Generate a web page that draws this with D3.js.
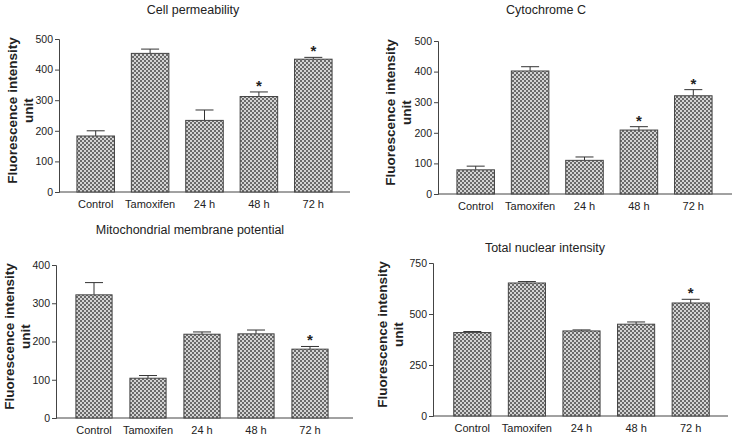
<!DOCTYPE html>
<html>
<head>
<meta charset="utf-8">
<script src="https://cdn.jsdelivr.net/npm/d3@7"></script>
<style>
  body { margin: 0; background: #fff; }
  svg { font-family: "Liberation Sans", Arial, sans-serif; }
  .tick text { font-size: 10.5px; fill: #222; }
  .domain, .tick line { stroke: #444; }
</style>
</head>
<body>
<svg id="chart" width="735" height="435"></svg>
<script>
const categories = ["Control", "Tamoxifen", "24 h", "48 h", "72 h"];

// mean and upper error-bar values
const cellPermMean = [183, 453, 234, 312, 434];
const cellPermErr = [200, 467, 268, 327, 440];
const cellPermStar = [false, false, false, true, true];

const cytoCMean = [79, 402, 110, 209, 321];
const cytoCErr = [91, 416, 121, 220, 341];
const cytoCStar = [false, false, false, true, true];

const mitoMean = [322, 104, 219, 220, 180];
const mitoErr = [354, 111, 225, 230, 187];
const mitoStar = [false, false, false, false, true];

const nuclearMean = [409, 652, 417, 450, 554];
const nuclearErr = [414, 659, 422, 461, 572];
const nuclearStar = [false, false, false, false, true];

const svg = d3.select("#chart");

// checkered fill like the original
const pat = svg.append("defs")
    .append("pattern")
    .attr("id", "checker")
    .attr("width", 4)
    .attr("height", 4)
    .attr("patternUnits", "userSpaceOnUse");
pat.append("rect").attr("width", 4).attr("height", 4).attr("fill", "#d4d4d4");
pat.append("rect").attr("width", 2).attr("height", 2).attr("fill", "#6a6a6a");
pat.append("rect").attr("x", 2).attr("y", 2).attr("width", 2).attr("height", 2).attr("fill", "#6a6a6a");

function drawPanel(opts) {
    const g = svg.append("g");
    const x = d3.scaleBand()
        .domain(categories)
        .range(opts.band)
        .paddingInner(opts.pad)
        .paddingOuter(opts.pad / 2);
    const y = d3.scaleLinear()
        .domain([0, opts.max])
        .range([opts.yBottom, opts.yTop]);

    g.append("g")
        .attr("transform", `translate(${opts.x0},0)`)
        .call(d3.axisLeft(y).tickValues(opts.ticks).tickSize(4).tickPadding(2).tickFormat(d3.format("d")));
    g.append("line")
        .attr("x1", opts.x0).attr("x2", opts.x1)
        .attr("y1", opts.yBottom).attr("y2", opts.yBottom)
        .attr("stroke", "#444");

    g.selectAll(".xl")
        .data(categories)
        .join("text")
        .attr("x", d => x(d) + x.bandwidth() / 2)
        .attr("y", opts.yBottom + 16)
        .attr("text-anchor", "middle")
        .attr("font-size", 11)
        .attr("fill", "#222")
        .text(d => d);

    // error bars (upper only)
    categories.forEach((c, i) => {
        const cx = x(c) + x.bandwidth() / 2;
        g.append("line")
            .attr("x1", cx).attr("x2", cx)
            .attr("y1", y(opts.mean[i])).attr("y2", y(opts.err[i]))
            .attr("stroke", "#333");
        g.append("line")
            .attr("x1", cx - 9).attr("x2", cx + 9)
            .attr("y1", y(opts.err[i])).attr("y2", y(opts.err[i]))
            .attr("stroke", "#333");
        if (opts.star[i]) {
            g.append("text")
                .attr("x", cx)
                .attr("y", y(opts.err[i]) - 1)
                .attr("text-anchor", "middle")
                .attr("font-size", 15)
                .attr("font-weight", "bold")
                .attr("fill", "#222")
                .text("*");
        }
    });

    g.selectAll(".bar")
        .data(categories)
        .join("rect")
        .attr("x", d => x(d))
        .attr("y", (d, i) => y(opts.mean[i]))
        .attr("width", x.bandwidth())
        .attr("height", (d, i) => opts.yBottom - y(opts.mean[i]))
        .attr("fill", "url(#checker)")
        .attr("stroke", "#444")
        .attr("stroke-width", 1);

    g.append("text")
        .attr("x", opts.titleX)
        .attr("y", opts.titleY)
        .attr("text-anchor", "middle")
        .attr("font-size", 12.5)
        .attr("fill", "#222")
        .text(opts.title);

    const midY = (opts.yTop + opts.yBottom) / 2 - 5;
    const lab = g.append("text")
        .attr("transform", `translate(${opts.labelX},${midY}) rotate(-90)`)
        .attr("text-anchor", "middle")
        .attr("font-size", 13.5)
        .attr("font-weight", "bold")
        .attr("fill", "#222");
    lab.append("tspan").attr("x", 0).attr("dy", 0).text("Fluorescence intensity");
    lab.append("tspan").attr("x", 0).attr("dy", 16).text("unit");
}

drawPanel({
    title: "Cell permeability", titleX: 193, titleY: 14,
    x0: 59, x1: 350, band: [68.5, 340.5], pad: 0.31,
    yTop: 39, yBottom: 192, max: 500,
    ticks: [0, 100, 200, 300, 400, 500], labelX: 17,
    mean: cellPermMean, err: cellPermErr, star: cellPermStar
});
drawPanel({
    title: "Cytochrome C", titleX: 546, titleY: 14,
    x0: 438, x1: 732, band: [448.5, 720.5], pad: 0.31,
    yTop: 41, yBottom: 194, max: 500,
    ticks: [0, 100, 200, 300, 400, 500], labelX: 395,
    mean: cytoCMean, err: cytoCErr, star: cytoCStar
});
drawPanel({
    title: "Mitochondrial membrane potential", titleX: 190, titleY: 234,
    x0: 56, x1: 353, band: [67, 337], pad: 0.33,
    yTop: 265, yBottom: 418, max: 400,
    ticks: [0, 100, 200, 300, 400], labelX: 14,
    mean: mitoMean, err: mitoErr, star: mitoStar
});
drawPanel({
    title: "Total nuclear intensity", titleX: 545, titleY: 252,
    x0: 433, x1: 728, band: [445, 718], pad: 0.32,
    yTop: 263, yBottom: 416, max: 750,
    ticks: [0, 250, 500, 750], labelX: 387,
    mean: nuclearMean, err: nuclearErr, star: nuclearStar
});
</script>
</body>
</html>
